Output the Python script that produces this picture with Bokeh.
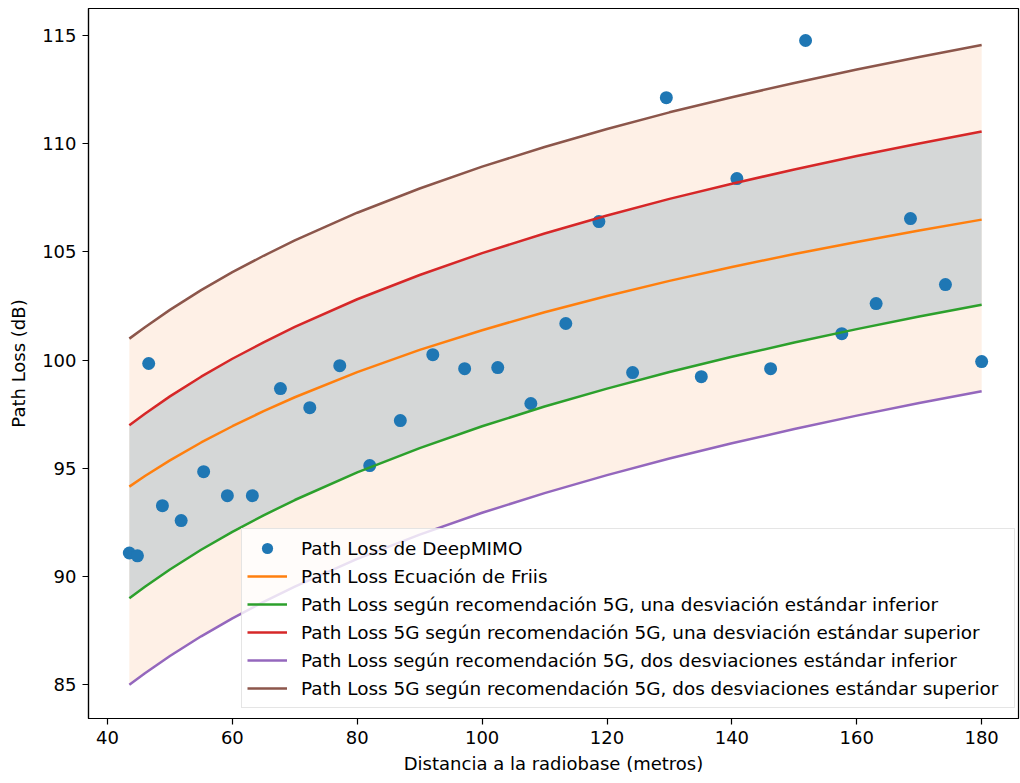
from bokeh.plotting import figure
from bokeh.models import Range1d, FixedTicker, Legend, LegendItem
from bokeh.embed import file_html
from bokeh.resources import INLINE

# DeepMIMO samples
dist = [43.5, 44.8, 46.6, 48.8, 51.8, 55.4, 59.2, 63.2, 67.7, 72.4, 77.2, 82.0, 86.9, 92.1, 97.2,
        102.5, 107.8, 113.4, 118.7, 124.1, 129.5, 135.1, 140.8, 146.2, 151.8, 157.6, 163.1, 168.6, 174.2, 180.0]
pl_deepmimo = [91.08, 90.95, 99.84, 93.27, 92.58, 94.84, 93.73, 93.73, 98.68, 97.80, 99.74, 95.12, 97.20, 100.25, 99.60,
               99.65, 97.99, 101.69, 106.40, 99.42, 112.13, 99.23, 108.39, 99.60, 114.77, 101.22, 102.61, 106.54, 103.49, 99.93]

# model curves
x_curve = [43.5, 46, 50, 55, 60, 65, 70, 80, 90, 100, 110, 120, 130, 140, 150, 160, 170, 180]
pl_friis = [94.15, 94.64, 95.36, 96.19, 96.94, 97.64, 98.28, 99.44, 100.47, 101.38, 102.21, 102.96, 103.66, 104.30, 104.90, 105.46, 105.99, 106.49]
pl_1sd_low = [88.99, 89.52, 90.32, 91.23, 92.06, 92.82, 93.53, 94.81, 95.93, 96.94, 97.85, 98.68, 99.45, 100.15, 100.81, 101.43, 102.01, 102.56]
pl_1sd_high = [96.99, 97.52, 98.32, 99.23, 100.06, 100.82, 101.53, 102.81, 103.93, 104.94, 105.85, 106.68, 107.45, 108.15, 108.81, 109.43, 110.01, 110.56]
pl_2sd_low = [84.99, 85.52, 86.32, 87.23, 88.06, 88.82, 89.53, 90.81, 91.93, 92.94, 93.85, 94.68, 95.45, 96.15, 96.81, 97.43, 98.01, 98.56]
pl_2sd_high = [100.99, 101.52, 102.32, 103.23, 104.06, 104.82, 105.53, 106.81, 107.93, 108.94, 109.85, 110.68, 111.45, 112.15, 112.81, 113.43, 114.01, 114.56]

x_ticks = [40, 60, 80, 100, 120, 140, 160, 180]
y_ticks = [85, 90, 95, 100, 105, 110, 115]

labels = [
    "Path Loss de DeepMIMO",
    "Path Loss Ecuación de Friis",
    "Path Loss según recomendación 5G, una desviación estándar inferior",
    "Path Loss 5G según recomendación 5G, una desviación estándar superior",
    "Path Loss según recomendación 5G, dos desviaciones estándar inferior",
    "Path Loss 5G según recomendación 5G, dos desviaciones estándar superior",
]

FONT = "DejaVu Sans"

p = figure(width=1020, height=783, output_backend="svg", toolbar_location=None,
           x_range=Range1d(36.96, 185.9), y_range=Range1d(83.43, 116.25))
p.min_border_left = 88
p.min_border_right = 2
p.min_border_top = 8
p.min_border_bottom = 65
p.background_fill_color = "white"
p.border_fill_color = "white"
p.outline_line_color = "black"
p.outline_line_width = 1.2
p.xgrid.visible = False
p.ygrid.visible = False

for ax, ticks in ((p.xaxis, x_ticks), (p.yaxis, y_ticks)):
    ax.ticker = FixedTicker(ticks=ticks)
    ax.axis_line_color = "black"
    ax.axis_line_width = 1.2
    ax.major_tick_line_color = "black"
    ax.major_tick_line_width = 1.2
    ax.major_tick_out = 6
    ax.major_tick_in = 0
    ax.minor_tick_line_color = None
    ax.major_label_text_font = FONT
    ax.major_label_text_font_size = "18px"
    ax.major_label_text_color = "black"
    ax.major_label_standoff = 6
    ax.axis_label_text_font = FONT
    ax.axis_label_text_font_size = "18px"
    ax.axis_label_text_font_style = "normal"
    ax.axis_label_text_color = "black"

p.xaxis.axis_label = "Distancia a la radiobase (metros)"
p.yaxis.axis_label = "Path Loss (dB)"
p.xaxis.axis_label_standoff = 6
p.yaxis.axis_label_standoff = 10

# shaded bands
p.varea(x=x_curve, y1=pl_2sd_low, y2=pl_2sd_high, fill_color="#fef0e6", fill_alpha=1.0)
p.varea(x=x_curve, y1=pl_1sd_low, y2=pl_1sd_high, fill_color="#d5d7d7", fill_alpha=1.0)

sc = p.scatter(dist, pl_deepmimo, size=13, color="#1f77b4", line_color=None)
l1 = p.line(x_curve, pl_friis, line_color="#ff7f0e", line_width=2.5)
l2 = p.line(x_curve, pl_1sd_low, line_color="#2ca02c", line_width=2.5)
l3 = p.line(x_curve, pl_1sd_high, line_color="#d62728", line_width=2.5)
l4 = p.line(x_curve, pl_2sd_low, line_color="#9467bd", line_width=2.5)
l5 = p.line(x_curve, pl_2sd_high, line_color="#8c564b", line_width=2.5)

legend = Legend(items=[LegendItem(label=lab, renderers=[r]) for lab, r in zip(labels, [sc, l1, l2, l3, l4, l5])],
                location=(153, 10))
legend.label_text_font = FONT
legend.label_text_font_size = "18.4px"
legend.label_text_color = "black"
legend.glyph_width = 40
legend.glyph_height = 28
legend.label_height = 28
legend.label_width = 708
legend.spacing = 0
legend.padding = 5
legend.margin = 0
legend.label_standoff = 14
legend.border_line_color = "#cccccc"
legend.border_line_width = 1.2
legend.background_fill_color = "white"
legend.background_fill_alpha = 0.8
p.add_layout(legend, "center")

open("out.html", "w").write(file_html(p, INLINE))
